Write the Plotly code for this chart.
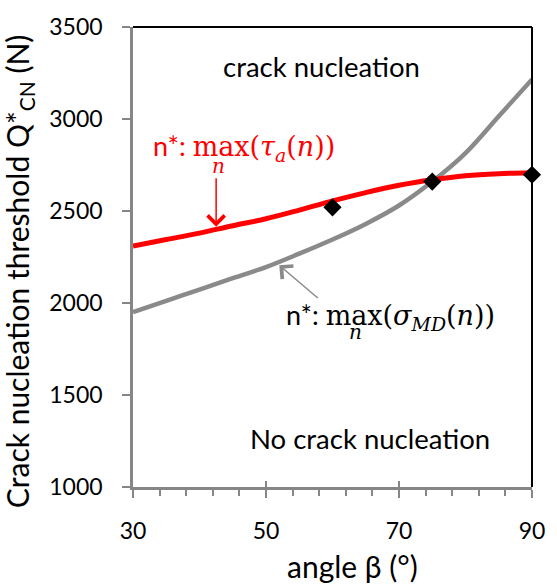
import plotly.graph_objects as go

# ---- data ----
beta_curve = [30, 35, 40, 45, 50, 55, 60, 65, 70, 75, 80, 85, 90]
q_tau = [2310, 2345, 2380, 2420, 2458, 2505, 2555, 2600, 2640, 2670, 2692, 2703, 2708]
q_sigma = [1950, 2012, 2073, 2135, 2195, 2268, 2345, 2430, 2530, 2660, 2815, 3015, 3215]
beta_exp = [60, 75, 90]
q_exp = [2520, 2660, 2697]
x_ticks = [30, 50, 70, 90]
y_ticks = [1000, 1500, 2000, 2500, 3000, 3500]

SANS = "Lato"
SERIF = "DejaVu Serif"
GREY = "#868686"

fig = go.Figure()
fig.add_trace(go.Scatter(x=beta_curve, y=q_sigma, mode="lines",
                         line=dict(color="#8a8a8a", width=4.5, shape="spline"),
                         showlegend=False))
fig.add_trace(go.Scatter(x=beta_curve, y=q_tau, mode="lines",
                         line=dict(color="#ff0000", width=5, shape="spline"),
                         showlegend=False))
fig.add_trace(go.Scatter(x=beta_exp, y=q_exp, mode="markers",
                         marker=dict(symbol="diamond", size=14, color="black"),
                         cliponaxis=False, showlegend=False))
# invisible trace on overlay axis for inner part of major ticks
fig.add_trace(go.Scatter(x=[30, 90], y=[1000, 1000], xaxis="x2", mode="lines",
                         line=dict(width=0), hoverinfo="skip", showlegend=False))

fig.update_layout(
    width=557, height=585,
    margin=dict(l=133, r=16, t=14, b=98),
    paper_bgcolor="white", plot_bgcolor="white",
    font=dict(family=SANS, size=23, color="black"),
    xaxis=dict(range=[30, 90], tickvals=x_ticks, ticks="outside", ticklen=8,
               tickwidth=1.5, tickcolor=GREY, showline=True, linecolor=GREY,
               linewidth=2.5, showgrid=False, zeroline=False,
               ticklabelstandoff=14, ticklabeloverflow="allow",
               tickfont=dict(family=SANS, size=23),
               minor=dict(dtick=4, tick0=30, ticks="outside", ticklen=6,
                          tickwidth=1.5, tickcolor=GREY, showgrid=False)),
    xaxis2=dict(range=[30, 90], overlaying="x", anchor="y", side="bottom",
                tickvals=x_ticks, ticks="inside", ticklen=6, tickwidth=1.5,
                tickcolor=GREY, showticklabels=False, showline=False,
                showgrid=False, zeroline=False),
    yaxis=dict(range=[1000, 3500], tickvals=y_ticks, ticks="outside", ticklen=8,
               tickwidth=1.5, tickcolor=GREY, showline=True, linecolor=GREY,
               linewidth=2.5, showgrid=False, zeroline=False,
               ticklabelstandoff=15, ticklabeloverflow="allow",
               tickfont=dict(family=SANS, size=23)),
)

# black frame on top and right
fig.add_shape(type="line", xref="paper", yref="paper", x0=0, x1=1, y0=1, y1=1,
              line=dict(color="black", width=2))
fig.add_shape(type="line", xref="paper", yref="paper", x0=1, x1=1, y0=0, y1=1,
              line=dict(color="black", width=2))

# axis titles
fig.add_annotation(text="angle β (°)", xref="paper", yref="paper",
                   x=0.549, y=-0.171, xanchor="center", yanchor="middle",
                   showarrow=False, font=dict(family=SANS, size=30))
fig.add_annotation(text="Crack nucleation threshold Q*<sub>CN</sub> (N)",
                   xref="paper", yref="paper", x=-0.286, y=0.469,
                   xanchor="center", yanchor="middle", textangle=-90,
                   showarrow=False, font=dict(family=SANS, size=30))

# region labels
fig.add_annotation(text="crack nucleation", x=58.3, y=3283, showarrow=False,
                   font=dict(family=SANS, size=27.5))
fig.add_annotation(text="No crack nucleation", x=65.7, y=1264, showarrow=False,
                   font=dict(family=SANS, size=27.5))

MATH = '<span style="font-family:\'%s\';font-size:27px">' % SERIF

# red label
fig.add_annotation(
    text='n*: ' + MATH + 'max(<i>τ<sub>a</sub></i>(<i>n</i>))</span>',
    x=32.65, y=2845, xanchor="left", yanchor="middle", showarrow=False,
    font=dict(family=SANS, size=27, color="#ff0000"))
fig.add_annotation(text="<i>n</i>", x=42.9, y=2744, showarrow=False,
                   font=dict(family=SERIF, size=20, color="#ff0000"))
fig.add_annotation(text="", x=42.5, y=2415, ax=0, ay=-50, showarrow=True,
                   arrowhead=4, arrowsize=2.2, arrowwidth=1.5,
                   arrowcolor="#ff0000")

# grey label
fig.add_annotation(
    text='n*: ' + MATH + 'max(<i>σ<sub>MD</sub></i>(<i>n</i>))</span>',
    x=52.7, y=1925, xanchor="left", yanchor="middle", showarrow=False,
    font=dict(family=SANS, size=27, color="black"))
fig.add_annotation(text="<i>n</i>", x=63.5, y=1840, showarrow=False,
                   font=dict(family=SERIF, size=20, color="black"))
fig.add_annotation(text="", x=52.0, y=2205, ax=40, ay=34, showarrow=True,
                   arrowhead=4, arrowsize=2.2, arrowwidth=1.5,
                   arrowcolor="#8a8a8a")

fig.write_html("out.html")
